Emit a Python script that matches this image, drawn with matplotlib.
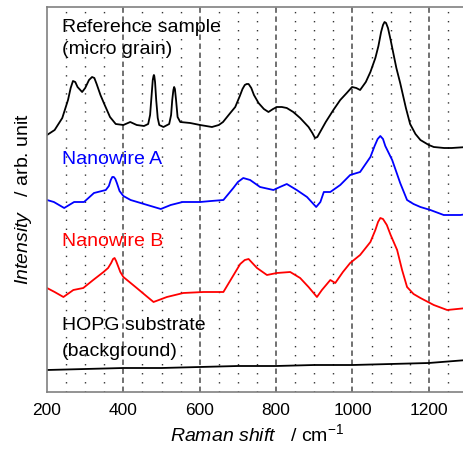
import numpy as np
import matplotlib
matplotlib.use("Agg")
import matplotlib.pyplot as plt

plt.rcParams['font.family'] = ['Liberation Sans', 'DejaVu Sans']
plt.rcParams['mathtext.fontset'] = 'custom'
plt.rcParams['mathtext.rm'] = 'Liberation Sans'
plt.rcParams['mathtext.it'] = 'Liberation Sans:italic'

# spectra (x: Raman shift, y: pixel row of the trace)
ref_x = [200, 220, 240, 255, 262, 268, 274, 280, 292, 300, 310, 318, 324, 330, 340, 350,
         365, 380, 400, 418, 435, 454, 465, 470, 474, 477, 479, 480, 481, 483, 486, 490,
         494, 505, 520, 525, 528, 531, 533, 535, 538, 542, 549, 575, 601, 632, 650, 661,
         680, 693, 705, 712, 718, 723, 728, 735, 742, 754, 768, 780, 792, 802, 815, 828,
         845, 863, 885, 895, 902, 908, 930, 950, 968, 985, 999, 1010, 1020, 1035, 1047,
         1060, 1068, 1075, 1080, 1084, 1088, 1093, 1100, 1108, 1115, 1125, 1140, 1151,
         1165, 1178, 1200, 1213, 1240, 1260, 1300]
ref_y = [135, 130, 118, 100, 88, 81, 82, 87, 92, 88, 80, 77, 78, 84, 95, 104,
         117, 124, 125, 122, 125, 126, 124, 115, 95, 80, 76, 75, 76, 82, 100, 118,
         125, 127, 124, 115, 100, 90, 87, 89, 100, 117, 122, 123, 125, 127, 125, 122,
         113, 107, 96, 89, 85, 84, 84, 88, 95, 103, 109, 112, 109, 107, 107, 108,
         112, 118, 127, 133, 138, 137, 122, 110, 100, 93, 87, 88, 90, 82, 72,
         58, 46, 32, 25, 22, 23, 28, 40, 55, 68, 83, 108, 124,
         134, 140, 145, 147, 148, 148, 147]

nwa_x = [200, 218, 245, 271, 297, 323, 354, 362, 367, 371, 375, 379, 383, 390, 400, 419,
         454, 498, 524, 555, 601, 630, 662, 688, 700, 714, 732, 758, 793, 810, 828, 854,
         881, 905, 916, 925, 942, 968, 994, 1020, 1047, 1058, 1066, 1073, 1080, 1086,
         1095, 1104, 1115, 1125, 1143, 1160, 1178, 1204, 1239, 1283, 1300]
nwa_y = [200, 202, 208, 202, 202, 193, 190, 186, 180, 177, 177, 179, 183, 191, 196, 200,
         204, 209, 205, 202, 202, 201, 200, 188, 182, 178, 180, 187, 190, 187, 184, 190,
         197, 207, 202, 192, 192, 185, 175, 172, 157, 146, 139, 136, 139, 146,
         153, 160, 172, 183, 200, 204, 207, 210, 215, 215, 214]

nwb_x = [200, 220, 243, 269, 295, 321, 348, 360, 368, 373, 377, 381, 386, 392, 400, 435,
         460, 479, 500, 514, 557, 610, 662, 684, 706, 718, 728, 750, 776, 802, 837, 863,
         885, 907, 920, 942, 955, 975, 994, 1020, 1047, 1060, 1067, 1073, 1080, 1090,
         1100, 1117, 1130, 1143, 1160, 1178, 1213, 1248, 1300]
nwb_y = [288, 292, 297, 290, 288, 280, 272, 268, 263, 259, 258, 261, 266, 272, 277, 288,
         296, 302, 299, 297, 293, 292, 292, 278, 264, 260, 259, 268, 275, 273, 272, 278,
         287, 297, 290, 280, 283, 272, 263, 255, 242, 230, 222, 218, 219, 225,
         235, 250, 270, 287, 294, 298, 305, 310, 308]

hopg_x = [200, 300, 400, 500, 600, 700, 800, 900, 1000, 1100, 1200, 1300]
hopg_y = [370, 369, 368, 368, 367, 366, 366, 365, 365, 364, 363, 360]

major = [400, 600, 800, 1000, 1200]
minor = [x for x in range(250, 1300, 50) if x not in major]

fig = plt.figure(figsize=(4.64, 4.55), dpi=100)
ax = fig.add_axes([47 / 464, 63 / 455, 420 / 464, 385 / 455])

for x in minor:
    ax.axvline(x, color="#333333", lw=1.0, ls=(0, (1, 5.5)), zorder=0)
for x in major:
    ax.axvline(x, color="#666666", lw=1.3, ls=(0, (3, 2)), zorder=0)

# pixel rows -> intensity
def conv(v):
    return 400 - np.array(v)

ax.plot(ref_x, conv(ref_y), color="black", lw=1.3)
ax.plot(nwa_x, conv(nwa_y), color="#0000ff", lw=1.3)
ax.plot(nwb_x, conv(nwb_y), color="#ff0000", lw=1.3)
ax.plot(hopg_x, conv(hopg_y), color="black", lw=1.3)

fs = 14
ax.text(238, 400 - 27, "Reference sample", fontsize=fs, va="center")
ax.text(238, 400 - 50, "(micro grain)", fontsize=fs, va="center")
ax.text(238, 400 - 160, "Nanowire A", fontsize=fs, va="center", color="#0000ff")
ax.text(238, 400 - 242, "Nanowire B", fontsize=fs, va="center", color="#ff0000")
ax.text(238, 400 - 326, "HOPG substrate", fontsize=fs, va="center")
ax.text(238, 400 - 352, "(background)", fontsize=fs, va="center")

ax.set_xlim(200, 1300)
ax.set_ylim(8, 393)
ax.set_xticks([200] + major)
ax.set_yticks([])
ax.tick_params(axis="x", length=0, labelsize=12.5, pad=8)
for s in ax.spines.values():
    s.set_color("#808080")
    s.set_linewidth(1.2)

ax.set_xlabel(r"$\it{Raman\ shift}$   / cm$^{-1}$", fontsize=14, labelpad=4)
ax.set_ylabel(r"$\it{Intensity}$   / arb. unit", fontsize=14, labelpad=9)

fig.savefig("out.png", dpi=100)
